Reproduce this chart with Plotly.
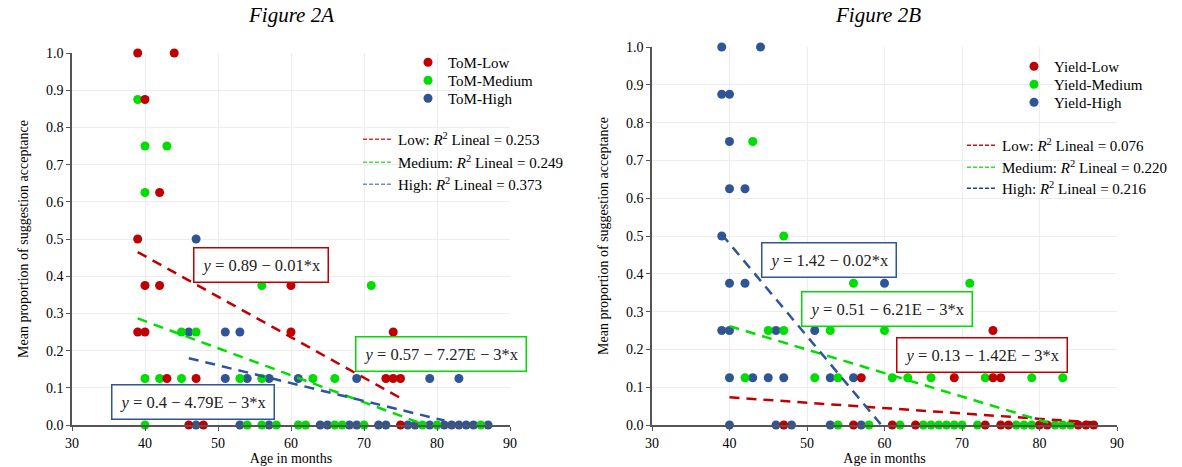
import plotly.graph_objects as go

RED = "#C00000"
GREEN = "#00DD00"
BLUE = "#2F5597"
FONT = "Liberation Serif"

# ---------------- Figure 2A (ToM groups) ----------------
tom_low_x = [39, 44, 40, 42, 39, 40, 42, 60, 39, 40, 60, 74, 43, 47, 73, 74, 75, 46, 48, 75]
tom_low_y = [1, 1, 0.875, 0.625, 0.5, 0.375, 0.375, 0.375, 0.25, 0.25, 0.25, 0.25,
             0.125, 0.125, 0.125, 0.125, 0.125, 0, 0, 0]

tom_med_x = [39, 40, 43, 40, 56, 71, 45, 47, 40, 42, 45, 53, 56, 63, 66,
             40, 54, 56, 58, 61, 62, 66, 67, 70, 78, 80, 86]
tom_med_y = [0.875, 0.75, 0.75, 0.625, 0.375, 0.375, 0.25, 0.25,
             0.125, 0.125, 0.125, 0.125, 0.125, 0.125, 0.125,
             0, 0, 0, 0, 0, 0, 0, 0, 0, 0, 0, 0]

tom_high_x = [47, 46, 51, 53, 51, 54, 57, 61, 69, 79, 83,
              47, 53, 57, 64, 65, 68, 69, 72, 73, 76, 77, 79, 81, 82, 83, 84, 85, 87]
tom_high_y = [0.5, 0.25, 0.25, 0.25, 0.125, 0.125, 0.125, 0.125, 0.125, 0.125, 0.125,
              0, 0, 0, 0, 0, 0, 0, 0, 0, 0, 0, 0, 0, 0, 0, 0, 0, 0]

# fitted lines: intercept, slope, x-start, x-end (Low, Medium, High)
tom_fit_b0 = [0.89, 0.57, 0.40]
tom_fit_b1 = [-0.0109, -0.00727, -0.00479]
tom_fit_x0 = [39, 39, 46]
tom_fit_x1 = [75, 78, 81]
tom_r2 = ["0.253", "0.249", "0.373"]
tom_eq = ["0.89 − 0.01*x", "0.57 − 7.27E − 3*x", "0.4 − 4.79E − 3*x"]
tom_eq_pos_x = [55.9, 80.5, 46.6]
tom_eq_pos_y = [0.43, 0.19, 0.062]

# ---------------- Figure 2B (Yield groups) ----------------
yld_low_x = [74, 57, 69, 74, 75, 47, 56, 61, 64, 73, 75, 76, 80, 81, 85, 86, 87]
yld_low_y = [0.25, 0.125, 0.125, 0.125, 0.125, 0, 0, 0, 0, 0, 0, 0, 0, 0, 0, 0, 0]

yld_med_x = [43, 47, 56, 71, 45, 47, 53, 60, 42, 51, 54, 61, 63, 66, 73, 79, 83,
             54, 58, 62, 65, 66, 67, 68, 69, 70, 72, 77, 78, 79, 82, 83, 84]
yld_med_y = [0.75, 0.5, 0.375, 0.375, 0.25, 0.25, 0.25, 0.25,
             0.125, 0.125, 0.125, 0.125, 0.125, 0.125, 0.125, 0.125, 0.125,
             0, 0, 0, 0, 0, 0, 0, 0, 0, 0, 0, 0, 0, 0, 0, 0]

yld_high_x = [39, 44, 39, 40, 40, 40, 42, 39, 40, 42, 60, 39, 40, 46, 51,
              40, 43, 45, 47, 53, 56, 40, 46, 48, 53, 57]
yld_high_y = [1, 1, 0.875, 0.875, 0.75, 0.625, 0.625, 0.5, 0.375, 0.375, 0.375,
              0.25, 0.25, 0.25, 0.25, 0.125, 0.125, 0.125, 0.125, 0.125, 0.125,
              0, 0, 0, 0, 0]

yld_fit_b0 = [0.13, 0.51, 1.46]
yld_fit_b1 = [-0.00142, -0.00621, -0.0245]
yld_fit_x0 = [40, 40, 39]
yld_fit_x1 = [87, 82, 59.5]
yld_r2 = ["0.076", "0.220", "0.216"]
yld_eq = ["0.13 − 1.42E − 3*x", "0.51 − 6.21E − 3*x", "1.42 − 0.02*x"]
yld_eq_pos_x = [72.6, 60.3, 52.9]
yld_eq_pos_y = [0.184, 0.306, 0.437]

group_names = ["Low", "Medium", "High"]
colors = [RED, GREEN, BLUE]
legend_line_colors = [["#E03030", "#40E040", "#6F8FC8"], ["#D01010", "#30E030", "#1F3F8F"]]

W, H = 1182, 467
fig = go.Figure()
legend_layout = {}
legend_counter = [0]


def new_legend(x_px, top_px):
    legend_counter[0] += 1
    n = legend_counter[0]
    key = "legend" if n == 1 else f"legend{n}"
    legend_layout[key] = dict(
        x=x_px / W, y=1 - top_px / H, xanchor="left", yanchor="top",
        bgcolor="rgba(0,0,0,0)", borderwidth=0, itemwidth=30,
        font=dict(family=FONT, size=15, color="black"),
    )
    return key


def add_panel(xa, ya, prefix, pts, b0, b1, x0, x1, r2, eq, ex, ey,
              mk_leg_x, mk_leg_tops, ln_leg_x, ln_leg_tops, lcols):
    # markers: draw High first so Low ends on top
    for i in [2, 1, 0]:
        px, py = pts[i]
        fig.add_trace(go.Scatter(
            x=px, y=py, mode="markers", name=f"{prefix}-{group_names[i]}",
            marker=dict(color=colors[i], size=9, line=dict(width=0)),
            xaxis=xa, yaxis=ya, cliponaxis=False,
            legend=new_legend(mk_leg_x, mk_leg_tops[i]),
        ))
    # fitted lines
    for i in range(3):
        xs = [x0[i], x1[i]]
        ys = [b0[i] + b1[i] * v for v in xs]
        fig.add_trace(go.Scatter(
            x=xs, y=ys, mode="lines", showlegend=False,
            line=dict(color=colors[i], width=2.5, dash="10px,7px"),
            xaxis=xa, yaxis=ya, hoverinfo="skip", cliponaxis=False,
        ))
    # legend entries for the fits
    for i in range(3):
        fig.add_trace(go.Scatter(
            x=[None], y=[None], mode="lines",
            name=f"{group_names[i]}: <i>R</i><sup>2</sup> Lineal = {r2[i]}",
            line=dict(color=lcols[i], width=1.5, dash="4px,2px"),
            xaxis=xa, yaxis=ya,
            legend=new_legend(ln_leg_x, ln_leg_tops[i]),
        ))
    # equation boxes
    for i in range(3):
        fig.add_annotation(
            x=ex[i], y=ey[i], xref=xa, yref=ya, showarrow=False,
            text=f"<i>y</i> = {eq[i]}",
            font=dict(family=FONT, size=16.5, color="#222"),
            bgcolor="white", bordercolor=colors[i], borderwidth=1.5, borderpad=7,
        )


add_panel("x", "y", "ToM",
          [(tom_low_x, tom_low_y), (tom_med_x, tom_med_y), (tom_high_x, tom_high_y)],
          tom_fit_b0, tom_fit_b1, tom_fit_x0, tom_fit_x1, tom_r2, tom_eq,
          tom_eq_pos_x, tom_eq_pos_y,
          408, [46, 64, 82], 358, [123, 146, 168], legend_line_colors[0])
add_panel("x2", "y2", "Yield",
          [(yld_low_x, yld_low_y), (yld_med_x, yld_med_y), (yld_high_x, yld_high_y)],
          yld_fit_b0, yld_fit_b1, yld_fit_x0, yld_fit_x1, yld_r2, yld_eq,
          yld_eq_pos_x, yld_eq_pos_y,
          1014, [50, 68, 86], 962, [129, 151, 172], legend_line_colors[1])

axis_common = dict(
    showgrid=True, gridcolor="#EDEDED", gridwidth=1, zeroline=False,
    showline=True, linecolor="#555555", linewidth=1.5,
    ticks="outside", ticklen=4, tickcolor="#555555", automargin=False,
    tickfont=dict(family=FONT, size=14, color="black"),
)
xticks = dict(range=[30, 90], tick0=30, dtick=10)
yticks = dict(range=[0, 1], tick0=0, dtick=0.1, tickformat=".1f")
xtitle = dict(text="Age in months", font=dict(family=FONT, size=14, color="black"), standoff=0)
ytitle = dict(text="Mean proportion of suggestion acceptance",
              font=dict(family=FONT, size=14, color="black"), standoff=14)

fig.update_layout(
    width=W, height=H, autosize=False,
    margin=dict(l=0, r=0, t=0, b=0, autoexpand=False),
    plot_bgcolor="white", paper_bgcolor="white",
    showlegend=True,
    xaxis=dict(domain=[72 / W, 510 / W], anchor="y", title=xtitle, **xticks, **axis_common),
    yaxis=dict(domain=[1 - 425 / H, 1 - 53 / H], anchor="x", title=ytitle, **yticks, **axis_common),
    xaxis2=dict(domain=[652 / W, 1117 / W], anchor="y2", title=xtitle, **xticks, **axis_common),
    yaxis2=dict(domain=[1 - 425 / H, 1 - 47 / H], anchor="x2", title=ytitle, **yticks, **axis_common),
    **legend_layout,
)
fig.add_annotation(text="<i>Figure 2A</i>", x=291 / W, y=1 - 15 / H, xref="paper", yref="paper",
                   xanchor="center", yanchor="middle",
                   showarrow=False, font=dict(family=FONT, size=21, color="black"))
fig.add_annotation(text="<i>Figure 2B</i>", x=878 / W, y=1 - 15 / H, xref="paper", yref="paper",
                   xanchor="center", yanchor="middle",
                   showarrow=False, font=dict(family=FONT, size=21, color="black"))

fig.write_html("out.html", config={"displayModeBar": False},
               post_script="document.body.style.margin='0';")
